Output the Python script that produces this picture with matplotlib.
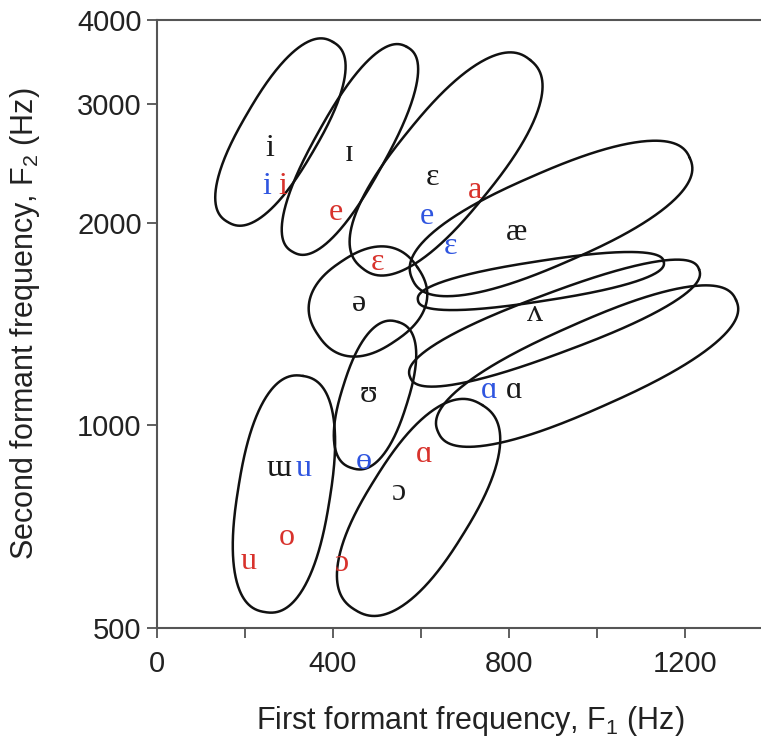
import numpy as np
import matplotlib
matplotlib.use("Agg")
import matplotlib.pyplot as plt

plt.rcParams["font.family"] = ["Liberation Sans", "DejaVu Sans"]
plt.rcParams["mathtext.default"] = "regular"

# vowel regions: two end points (F1, F2) of the long axis of each loop
region_names = ["i", "ɪ", "ɛ", "æ", "thin", "ʌ", "ɑ", "ə", "ʊ", "u", "ɔ"]
region_f1_a = [161, 309, 466, 580, 593, 575, 639, 366, 443, 245, 450]
region_f2_a = [2004, 1809, 1713, 1650, 1535, 1180, 977, 1362, 864, 528, 532]
region_f1_b = [400, 568, 848, 1211, 1152, 1232, 1316, 593, 548, 332, 739]
region_f2_b = [3710, 3648, 3489, 2495, 1748, 1705, 1535, 1713, 1424, 1184, 1072]
region_halfwidth = [38, 36, 50, 46, 20, 30, 43, 48, 33, 46, 52]  # screen px

# vowel symbols
sym_text = ["i", "i", "i", "ɪ", "e", "ɛ", "a", "e", "ɛ", "æ", "ɛ", "ə", "ʌ",
            "ʊ", "ɑ", "ɑ", "ɯ", "u", "ɵ", "ɑ", "ɔ", "o", "u", "ɔ"]
sym_f1 = [257, 250, 286, 436, 407, 627, 723, 614, 666, 818, 502, 459, 859,
          480, 755, 811, 278, 334, 470, 607, 548, 295, 209, 418]
sym_f2 = [2581, 2267, 2267, 2537, 2073, 2337, 2236, 2046, 1846, 1937, 1748, 1519, 1468,
          1113, 1128, 1128, 864, 864, 885, 904, 796, 682, 627, 624]
sym_group = ["k", "b", "r", "k", "r", "k", "r", "b", "b", "k", "r", "k", "k",
             "k", "b", "k", "k", "b", "b", "r", "k", "r", "r", "r"]

colors = {"k": "#1a1a1a", "r": "#d8322c", "b": "#2f55e0"}

fig = plt.figure(figsize=(7.61, 7.47), dpi=100)
ax = fig.add_axes([157 / 761, 119 / 747, 616 / 761, 608 / 747])
ax.set_yscale("log")
ax.set_xlim(0, 1400)
ax.set_ylim(500, 4000)


def loop(ax, p, q, hw, n=2.4, npts=400):
    # superellipse between two data points, width in display pixels
    P = ax.transData.transform(p)
    Q = ax.transData.transform(q)
    c = (P + Q) / 2
    d = Q - P
    a = np.hypot(*d) / 2
    ang = np.arctan2(d[1], d[0])
    t = np.linspace(0, 2 * np.pi, npts)
    u = a * np.sign(np.cos(t)) * np.abs(np.cos(t)) ** (2 / n)
    v = hw * np.sign(np.sin(t)) * np.abs(np.sin(t)) ** (2 / n)
    x = c[0] + u * np.cos(ang) - v * np.sin(ang)
    y = c[1] + u * np.sin(ang) + v * np.cos(ang)
    pts = ax.transData.inverted().transform(np.column_stack([x, y]))
    ax.plot(pts[:, 0], pts[:, 1], color="#111111", lw=1.8, solid_capstyle="round")


for i in range(len(region_names)):
    loop(ax, (region_f1_a[i], region_f2_a[i]), (region_f1_b[i], region_f2_b[i]),
         region_halfwidth[i])

for s, x, y, g in zip(sym_text, sym_f1, sym_f2, sym_group):
    ax.text(x, y, s, color=colors[g], fontsize=23, ha="center", va="center",
            family=["Liberation Serif", "DejaVu Serif"])

ax.set_xticks([0, 400, 800, 1200])
ax.set_xticks([200, 600, 1000, 1400], minor=True)
ax.set_yticks([500, 1000, 2000, 3000, 4000])
ax.set_yticklabels(["500", "1000", "2000", "3000", "4000"])
ax.yaxis.set_minor_locator(matplotlib.ticker.NullLocator())
ax.tick_params(axis="both", which="both", direction="out", length=7, width=1.2,
               color="#444444", labelsize=21, labelcolor="#222222", pad=4)
ax.tick_params(axis="x", which="both", pad=9)

for side in ["left", "bottom", "top"]:
    ax.spines[side].set_color("#555555")
    ax.spines[side].set_linewidth(1.5)
ax.spines["right"].set_visible(False)

ax.set_xlabel("First formant frequency, F$_1$ (Hz)", fontsize=22, color="#222222")
ax.set_ylabel("Second formant frequency, F$_2$ (Hz)", fontsize=22, color="#222222")
ax.xaxis.set_label_coords((470 - 157) / 616, -(704 - 628) / 608)
ax.yaxis.set_label_coords(-(157 - 42) / 616, 0.5)

fig.savefig("out.png", dpi=100)
